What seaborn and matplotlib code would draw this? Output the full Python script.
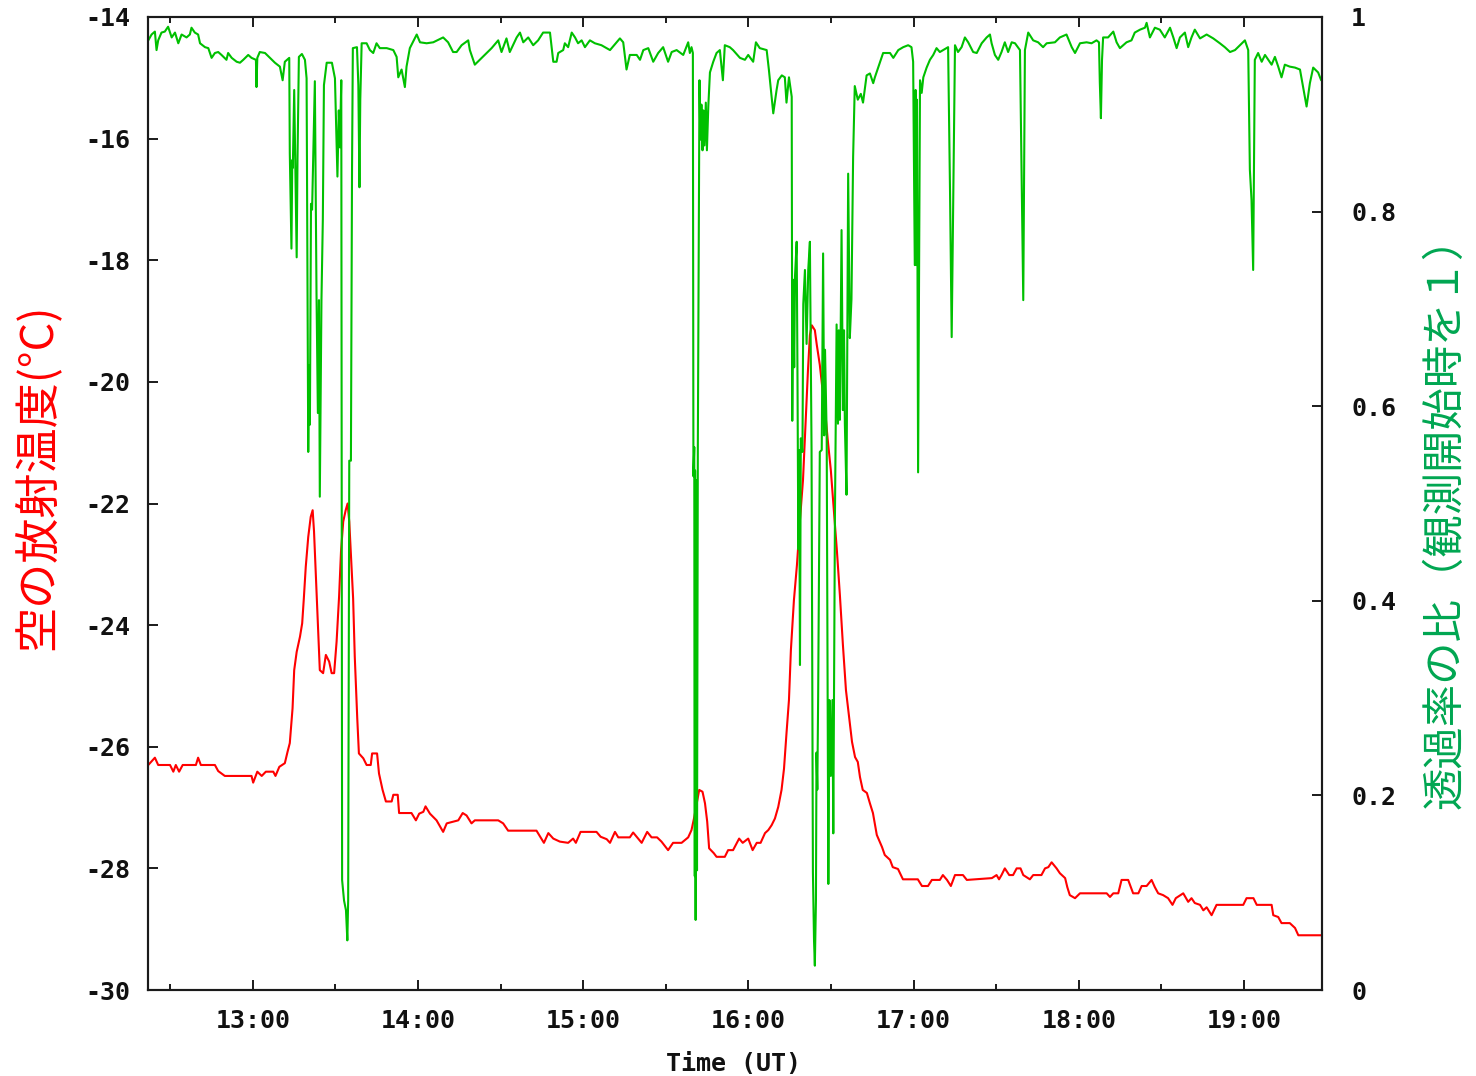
import matplotlib
matplotlib.use("Agg")
import matplotlib.pyplot as plt
from matplotlib.ticker import FixedLocator
import seaborn as sns

# Sky radiation temperature (deg C); time in minutes after 12:00 UT
temp_minutes = [
    22.0, 24.4, 25.6, 29.9, 31.1, 32.0, 33.2, 34.5, 39.3, 40.1,
    41.1, 46.2, 47.4, 49.8, 59.5, 60.1, 61.6, 63.2, 64.7, 67.4,
    68.2, 69.6,
    71.6, 72.6, 73.4, 74.4, 75.0, 75.9, 77.1, 77.9, 78.5, 79.2,
    80.1, 81.0, 81.7, 82.2, 82.9, 83.7, 84.3, 85.5, 86.5, 87.7,
    88.6, 89.5, 90.4, 91.3, 92.0, 92.8, 93.7, 94.4, 95.0, 95.6,
    96.4, 97.0, 97.9, 98.5, 100.1, 101.3, 102.8, 103.3, 105.1, 105.8,
    107.1, 108.3, 110.4, 111.0, 112.6, 113.1, 117.6, 119.2, 120.4, 121.9,
    122.7, 124.3, 126.7, 129.1, 130.4, 134.6, 136.2, 137.6, 139.4, 140.6,
    149.1, 150.9, 152.7, 163.0, 164.2, 165.7, 167.3, 169.1,
    171.5, 174.5, 176.3, 177.3, 179.0, 184.8, 186.3, 188.5, 189.7, 191.5,
    192.7, 196.9, 198.1, 201.2, 203.2, 204.8, 206.8, 208.4, 210.8, 212.6,
    215.7, 218.1, 219.3, 220.2, 222.1, 223.3, 224.2, 225.0, 225.7, 227.4,
    228.4, 231.4, 232.6, 234.4, 236.6, 237.9, 239.9, 241.5, 243.0, 244.4,
    246.0, 247.2, 248.4, 249.6, 250.8, 252.0, 252.9, 253.8,
    254.7, 255.4, 256.5, 257.6, 258.7, 259.8, 260.8, 261.6, 262.3, 263.0,
    264.1, 264.8, 265.9, 266.7, 267.8, 268.8, 269.9, 271.0, 272.1, 273.2,
    274.3, 275.4,
    276.8, 277.6, 278.7, 279.7, 280.5, 281.5, 283.0, 284.1, 285.2, 286.6,
    288.5, 289.5, 291.4, 292.4, 294.3, 296.1, 301.5, 303.0, 305.2, 306.6,
    309.5, 310.6, 312.1, 313.5, 315.0, 317.9, 319.3,
    328.4, 330.1, 331.0, 331.9, 333.1, 334.7, 336.1, 337.4, 338.8, 339.8,
    342.2, 343.4, 346.4, 347.7, 348.9, 350.1, 351.9, 353.1, 355.0, 355.8,
    356.7, 358.6, 360.4, 370.1, 371.3, 372.5, 374.3, 375.5, 377.9, 379.7,
    381.6, 382.8, 384.6, 386.4, 387.6, 388.8, 390.6, 392.4, 394.0, 395.2,
    397.9, 399.7, 400.9, 402.1, 404.0, 405.2, 406.4, 408.2, 410.0, 419.7,
    420.9, 423.4, 424.6, 430.0, 430.6, 432.4, 433.6, 436.6, 438.5, 439.7,
    448.0,
]
temp_values = [
    -26.30, -26.18, -26.30, -26.30, -26.41, -26.30, -26.41, -26.30, -26.30, -26.18,
    -26.30, -26.30, -26.40, -26.48, -26.48, -26.59, -26.41, -26.48, -26.41, -26.41,
    -26.48, -26.33,
    -26.27, -26.08, -25.94, -25.37, -24.74, -24.44, -24.19, -23.97, -23.56, -23.04,
    -22.55, -22.22, -22.11, -22.46, -23.23, -24.13, -24.74, -24.79, -24.49, -24.60,
    -24.79, -24.79, -24.27, -23.53, -22.79, -22.30, -22.11, -22.00, -22.30, -22.85,
    -23.56, -24.52, -25.53, -26.11, -26.19, -26.30, -26.30, -26.11, -26.11, -26.44,
    -26.71, -26.90, -26.90, -26.79, -26.79, -27.09, -27.09, -27.21, -27.10, -27.07,
    -26.98, -27.10, -27.21, -27.40, -27.26, -27.21, -27.09, -27.13, -27.26, -27.21,
    -27.21, -27.26, -27.38, -27.38, -27.47, -27.58, -27.42, -27.51,
    -27.56, -27.58, -27.51, -27.58, -27.40, -27.40, -27.48, -27.52, -27.58, -27.40,
    -27.49, -27.49, -27.41, -27.58, -27.40, -27.49, -27.49, -27.56, -27.70, -27.58,
    -27.58, -27.49, -27.37, -27.18, -26.71, -26.74, -26.93, -27.23, -27.67, -27.75,
    -27.81, -27.81, -27.70, -27.70, -27.51, -27.58, -27.51, -27.70, -27.58, -27.58,
    -27.42, -27.37, -27.29, -27.18, -26.99, -26.71, -26.36, -25.78,
    -25.23, -24.41, -23.59, -23.01, -22.27, -21.61, -20.63, -19.81, -19.23, -19.07,
    -19.15, -19.39, -19.72, -20.05, -20.46, -20.96, -21.45, -22.11, -22.77, -23.51,
    -24.33, -25.07,
    -25.61, -25.92, -26.17, -26.25, -26.50, -26.71, -26.76, -26.93, -27.09, -27.45,
    -27.65, -27.78, -27.86, -27.98, -28.01, -28.18, -28.18, -28.29, -28.29, -28.19,
    -28.19, -28.11, -28.19, -28.29, -28.11, -28.11, -28.19,
    -28.16, -28.11, -28.18, -28.11, -28.00, -28.11, -28.11, -28.00, -28.00, -28.11,
    -28.18, -28.11, -28.11, -28.00, -27.98, -27.90, -28.00, -28.08, -28.16, -28.31,
    -28.44, -28.49, -28.41, -28.41, -28.47, -28.41, -28.41, -28.19, -28.19, -28.41,
    -28.41, -28.29, -28.29, -28.19, -28.31, -28.41, -28.44, -28.49, -28.60, -28.49,
    -28.41, -28.55, -28.49, -28.57, -28.60, -28.69, -28.64, -28.77, -28.60, -28.60,
    -28.49, -28.49, -28.60, -28.60, -28.77, -28.80, -28.90, -28.90, -28.98, -29.10,
    -29.10,
]

# Transmittance ratio (1 = start of observation); time in minutes after 12:00 UT
ratio_minutes = [
    22.0, 23.2, 24.4, 25.0, 25.6, 26.8, 28.0, 29.2, 30.5, 31.7,
    32.9, 34.1, 35.9, 37.1, 37.7, 38.9, 40.1, 40.8, 42.6, 43.8,
    45.0, 46.2, 47.4, 48.6, 50.4, 51.0, 52.3, 54.1, 55.3, 56.5,
    58.3, 59.5, 61.1, 61.3, 61.6, 62.5, 64.4, 66.2, 68.0, 69.8,
    70.8, 71.6, 73.2, 73.4, 74.0, 74.3, 74.5, 75.0, 75.4, 75.9,
    76.2, 76.7, 77.8, 78.9, 79.5, 80.1, 80.4, 80.7, 81.1, 81.5,
    82.5, 83.1, 83.6, 84.0, 84.3, 84.9, 85.4, 85.8, 86.8, 88.7,
    89.8, 90.7, 91.2, 91.6, 92.1, 92.4, 93.1, 93.8, 94.3, 94.6,
    95.0, 95.6, 96.0, 96.3, 97.8, 98.3, 98.7, 99.0, 99.5, 101.3,
    102.5, 103.7, 104.9, 106.1, 108.6, 111.0, 112.2, 112.8, 114.0, 115.2,
    115.8, 117.0, 119.5, 120.7, 123.1, 125.5, 129.1, 130.9, 132.7, 134.0,
    135.8, 138.2, 138.8, 140.6, 142.4, 144.9, 146.7, 149.1, 150.3, 152.1,
    153.3, 155.8, 157.0, 158.2, 160.0, 161.8, 163.6, 165.4, 167.9, 169.1,
    170.3, 170.9, 172.7, 173.3, 174.5, 175.8, 177.0, 178.1, 179.4, 180.6,
    182.4, 184.2, 186.6, 188.5, 189.7, 192.1, 193.3, 194.5, 195.7, 196.9,
    199.4, 200.6, 201.8, 203.6, 205.4, 207.2, 209.0, 210.8, 212.1, 213.9,
    216.3, 218.1, 218.7, 219.3, 219.8, 220.0, 220.3, 220.5, 220.6, 220.8,
    221.0, 221.3, 221.6, 222.2, 222.5, 222.9, 223.3, 223.6, 224.0, 224.5,
    224.9, 225.4, 226.0, 227.2, 228.4, 229.6, 230.7, 231.4, 233.2, 234.4,
    236.9, 238.7, 239.9, 241.7, 242.7, 244.1, 246.6, 247.4, 248.4, 249.0,
    250.2, 250.8, 252.1, 253.2, 253.8, 254.7, 255.7, 255.9, 256.2, 256.6,
    256.9, 257.5, 257.8, 258.1, 258.4, 258.7, 259.0, 259.6, 259.9, 260.5,
    261.1, 261.7, 262.3, 262.9, 263.4, 263.8, 264.1, 264.5, 264.7, 265.0,
    265.3, 265.9, 266.6, 267.1, 267.5, 267.8, 268.4, 269.0, 269.4, 269.9,
    270.5, 270.8, 271.4, 272.0, 272.5, 272.8, 273.2, 273.8, 274.3, 274.7,
    275.0, 275.6, 276.2, 276.8, 277.4, 278.0, 278.6, 279.7, 280.8, 281.6,
    282.9, 284.1, 285.3, 285.9, 287.7, 288.9, 291.4, 292.6, 294.4, 296.2,
    298.0, 299.2, 299.8, 300.4, 300.7, 300.9, 301.2, 301.6, 302.3, 302.9,
    303.5, 304.7, 305.9, 307.1, 308.3, 309.5, 310.7, 312.5, 313.2, 313.8,
    314.4, 315.0, 316.1, 317.4, 318.6, 319.8, 321.6, 322.9, 324.7, 326.5,
    327.7, 328.3, 329.5, 330.7, 331.9, 333.1, 334.3, 335.6, 336.8, 338.6,
    339.2, 339.8, 340.1, 340.4, 341.6, 343.4, 345.2, 347.0, 348.3, 351.3,
    353.1, 355.5, 357.4, 358.6, 360.4, 362.8, 364.6, 366.4, 367.3, 367.6,
    368.0, 368.4, 368.8, 370.6, 372.5, 373.7, 374.9, 377.3, 379.1, 380.3,
    382.2, 384.0, 384.6, 385.8, 387.6, 389.4, 391.2, 393.1, 394.3, 395.5,
    396.7, 398.5, 399.7, 400.9, 402.1, 404.0, 406.4, 408.8, 411.2, 413.0,
    414.9, 416.7, 418.5, 420.3, 421.5, 422.1, 422.7, 423.3, 423.6, 423.9,
    425.1, 426.4, 427.6, 430.0, 431.2, 432.4, 433.6, 434.8, 436.6, 438.5,
    440.3, 441.5, 442.7, 443.9, 445.1, 446.9, 448.0,
]
ratio_values = [
    0.976, 0.982, 0.985, 0.966, 0.976, 0.984, 0.985, 0.990, 0.979, 0.984,
    0.973, 0.982, 0.979, 0.982, 0.989, 0.984, 0.982, 0.973, 0.969, 0.968,
    0.958, 0.963, 0.964, 0.961, 0.956, 0.963, 0.958, 0.954, 0.953, 0.956,
    0.961, 0.958, 0.956, 0.928, 0.958, 0.964, 0.963, 0.958, 0.953, 0.949,
    0.935, 0.954, 0.958, 0.860, 0.762, 0.853, 0.845, 0.925, 0.848, 0.753,
    0.854, 0.959, 0.962, 0.956, 0.937, 0.553, 0.642, 0.581, 0.808, 0.802,
    0.934, 0.716, 0.593, 0.709, 0.507, 0.709, 0.792, 0.930, 0.953, 0.953,
    0.937, 0.836, 0.904, 0.866, 0.935, 0.113, 0.092, 0.082, 0.051, 0.092,
    0.544, 0.544, 0.842, 0.968, 0.969, 0.930, 0.825, 0.915, 0.973, 0.973,
    0.966, 0.963, 0.973, 0.968, 0.968, 0.966, 0.959, 0.938, 0.946, 0.928,
    0.949, 0.968, 0.982, 0.974, 0.973, 0.974, 0.979, 0.974, 0.964, 0.964,
    0.971, 0.976, 0.966, 0.951, 0.956, 0.963, 0.968, 0.976, 0.964, 0.978,
    0.964, 0.979, 0.984, 0.974, 0.979, 0.971, 0.976, 0.984, 0.984, 0.954,
    0.954, 0.963, 0.966, 0.973, 0.969, 0.984, 0.979, 0.973, 0.976, 0.969,
    0.976, 0.973, 0.971, 0.968, 0.966, 0.974, 0.978, 0.974, 0.946, 0.961,
    0.961, 0.956, 0.966, 0.968, 0.954, 0.963, 0.969, 0.954, 0.964, 0.966,
    0.961, 0.974, 0.963, 0.969, 0.963, 0.528, 0.558, 0.117, 0.534, 0.072,
    0.524, 0.123, 0.558, 0.935, 0.874, 0.910, 0.863, 0.904, 0.868, 0.912,
    0.863, 0.908, 0.943, 0.954, 0.963, 0.966, 0.935, 0.971, 0.969, 0.966,
    0.958, 0.956, 0.961, 0.954, 0.974, 0.968, 0.966, 0.946, 0.918, 0.901,
    0.925, 0.935, 0.940, 0.938, 0.912, 0.938, 0.918, 0.585, 0.730, 0.640,
    0.734, 0.769, 0.627, 0.453, 0.555, 0.334, 0.567, 0.553, 0.705, 0.740,
    0.664, 0.740, 0.769, 0.556, 0.121, 0.051, 0.025, 0.092, 0.244, 0.206,
    0.302, 0.553, 0.555, 0.757, 0.570, 0.658, 0.570, 0.109, 0.298, 0.220,
    0.298, 0.161, 0.488, 0.684, 0.582, 0.678, 0.586, 0.781, 0.596, 0.678,
    0.582, 0.509, 0.839, 0.670, 0.710, 0.856, 0.929, 0.915, 0.921, 0.912,
    0.940, 0.942, 0.932, 0.938, 0.953, 0.963, 0.963, 0.958, 0.966, 0.969,
    0.971, 0.969, 0.954, 0.745, 0.925, 0.745, 0.915, 0.532, 0.935, 0.922,
    0.938, 0.948, 0.956, 0.961, 0.968, 0.964, 0.966, 0.969, 0.820, 0.671,
    0.820, 0.971, 0.964, 0.969, 0.979, 0.974, 0.964, 0.963, 0.973, 0.979,
    0.982, 0.973, 0.961, 0.956, 0.964, 0.974, 0.964, 0.974, 0.973, 0.966,
    0.836, 0.709, 0.832, 0.966, 0.984, 0.976, 0.974, 0.969, 0.973, 0.974,
    0.979, 0.982, 0.969, 0.963, 0.973, 0.974, 0.973, 0.976, 0.974, 0.933,
    0.896, 0.956, 0.979, 0.979, 0.985, 0.974, 0.968, 0.974, 0.976, 0.984,
    0.987, 0.989, 0.994, 0.979, 0.989, 0.987, 0.979, 0.989, 0.979, 0.968,
    0.979, 0.984, 0.969, 0.979, 0.987, 0.978, 0.982, 0.978, 0.973, 0.969,
    0.964, 0.966, 0.971, 0.976, 0.966, 0.843, 0.812, 0.740, 0.848, 0.956,
    0.963, 0.954, 0.961, 0.951, 0.959, 0.949, 0.938, 0.951, 0.949, 0.948,
    0.946, 0.927, 0.908, 0.932, 0.948, 0.943, 0.935,
]

# Axis ticks and labels
time_major = [60, 120, 180, 240, 300, 360, 420]
time_labels = ["13:00", "14:00", "15:00", "16:00", "17:00", "18:00", "19:00"]
time_minor = [30, 90, 150, 210, 270, 330, 390]
temp_ticks = [-30, -28, -26, -24, -22, -20, -18, -16, -14]
ratio_ticks = [0, 0.2, 0.4, 0.6, 0.8, 1.0]
ratio_labels = ["0", "0.2", "0.4", "0.6", "0.8", "1"]

temp_label = "空の放射温度(°C)"
ratio_label = "透過率の比（観測開始時を１）"
time_label = "Time (UT)"

RED = "#ff0000"
GREEN = "#00c000"
LABEL_GREEN = "#00a651"
FRAME = "#1a1a1a"

sns.set_theme(style="white")
plt.rcParams["font.family"] = ["Noto Sans CJK JP", "DejaVu Sans"]

W, H = 1476, 1076
fig = plt.figure(figsize=(W / 100, H / 100), dpi=100)
ax = fig.add_axes([148 / W, 1 - 990 / H, 1174 / W, 973 / H])
ax2 = ax.twinx()

sns.lineplot(x=temp_minutes, y=temp_values, ax=ax, color=RED, linewidth=1.5,
             estimator=None, sort=False, legend=False)
sns.lineplot(x=ratio_minutes, y=ratio_values, ax=ax2, color=GREEN, linewidth=1.5,
             estimator=None, sort=False, legend=False)

ax.set_xlim(21.9, 448.3)
ax.set_ylim(-30, -14)
ax2.set_ylim(0, 1)
ax.set_xlabel("")
ax.set_ylabel("")
ax2.set_ylabel("")

ax.xaxis.set_major_locator(FixedLocator(time_major))
ax.xaxis.set_minor_locator(FixedLocator(time_minor))
ax.set_xticklabels(time_labels)
ax.set_yticks(temp_ticks)
ax.set_yticklabels([str(v) for v in temp_ticks])
ax2.set_yticks(ratio_ticks)
ax2.set_yticklabels(ratio_labels)

ax.tick_params(axis="x", which="major", direction="in", length=7.2, width=1.4,
               top=True, bottom=True, pad=14, color=FRAME)
ax.tick_params(axis="x", which="minor", direction="in", length=4.3, width=1.4,
               top=True, bottom=True, color=FRAME)
ax.tick_params(axis="y", which="major", direction="in", length=7.2, width=1.4,
               left=True, right=False, pad=13, color=FRAME)
ax2.tick_params(axis="y", which="major", direction="in", length=7.2, width=1.4,
                left=False, right=True, pad=21, color=FRAME)

tick_font = dict(family="DejaVu Sans Mono", weight="bold", size=18)
for lbl in ax.get_xticklabels() + ax.get_yticklabels() + ax2.get_yticklabels():
    lbl.set_fontfamily(tick_font["family"])
    lbl.set_fontweight(tick_font["weight"])
    lbl.set_fontsize(tick_font["size"])
    lbl.set_color("#111111")

for a in (ax, ax2):
    for s in a.spines.values():
        s.set_color(FRAME)
        s.set_linewidth(1.5)

fig.text(733 / W, 1 - 1064 / H, time_label, ha="center", va="center",
         family="DejaVu Sans Mono", weight="bold", size=18, color="#111111")
fig.text(38 / W, 1 - 477 / H, temp_label, ha="center", va="center",
         rotation=90, size=32.5, color=RED,
         family=["Noto Sans CJK JP", "DejaVu Sans"])
fig.text(1445 / W, 1 - 512 / H, ratio_label, ha="center", va="center",
         rotation=90, size=30.5, color=LABEL_GREEN,
         family=["Noto Sans CJK JP", "DejaVu Sans"])

fig.savefig("out.png", dpi=100, facecolor="white")
